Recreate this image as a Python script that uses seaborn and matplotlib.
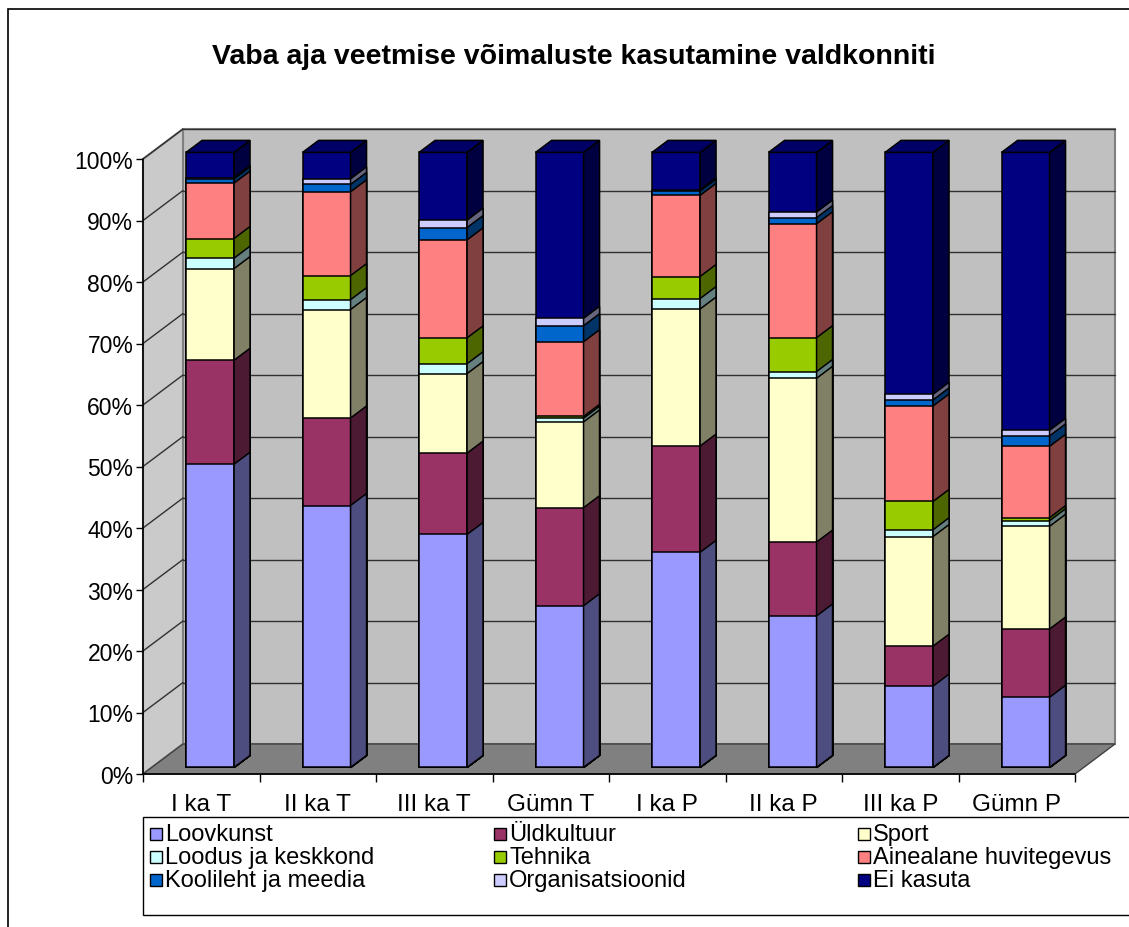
import numpy as np
import pandas as pd
import matplotlib.pyplot as plt
import matplotlib.patches as mpatches
import matplotlib.colors as mcolors
import seaborn as sns

klassid = ["I ka T", "II ka T", "III ka T", "Gümn T", "I ka P", "II ka P", "III ka P", "Gümn P"]
valdkonnad = ["Loovkunst", "Üldkultuur", "Sport", "Loodus ja keskkond", "Tehnika",
              "Ainealane huvitegevus", "Koolileht ja meedia", "Organisatsioonid", "Ei kasuta"]

loovkunst = [49.3, 42.5, 37.8, 26.2, 35.0, 24.6, 13.2, 11.4]
yldkultuur = [16.9, 14.2, 13.2, 15.9, 17.3, 12.0, 6.5, 11.1]
sport = [14.9, 17.6, 12.9, 13.9, 22.3, 26.6, 17.8, 16.7]
loodus = [1.7, 1.6, 1.6, 0.6, 1.7, 1.1, 1.1, 0.9]
tehnika = [3.2, 3.9, 4.2, 0.3, 3.6, 5.5, 4.6, 0.5]
ainealane = [9.0, 13.6, 15.9, 12.1, 13.2, 18.5, 15.5, 11.6]
koolileht = [0.7, 1.2, 2.0, 2.6, 0.7, 1.0, 1.0, 1.7]
organisatsioonid = [0.2, 0.9, 1.2, 1.2, 0.2, 0.9, 0.9, 0.9]
ei_kasuta = [4.1, 4.3, 11.0, 26.9, 6.1, 9.7, 39.3, 45.2]

varvid = ["#9999FF", "#993366", "#FFFFCC", "#CCFFFF", "#99CC00",
          "#FF8080", "#0066CC", "#CCCCFF", "#000080"]

W, H = 1129, 928


def tumedam(c, k):
    r, g, b = mcolors.to_rgb(c)
    return (r * k, g * k, b * k)


def main():
    sns.set_style("white")
    plt.rcParams['font.family'] = ['Liberation Sans', 'DejaVu Sans']
    plt.rcParams['text.color'] = 'black'
    plt.rcParams['xtick.color'] = 'black'
    plt.rcParams['ytick.color'] = 'black'

    df = pd.DataFrame(dict(zip(valdkonnad, [loovkunst, yldkultuur, sport, loodus, tehnika,
                                            ainealane, koolileht, organisatsioonid, ei_kasuta])),
                      index=klassid)
    pct = df.div(df.sum(axis=1), axis=0) * 100
    cum = pct.cumsum(axis=1)

    fig = plt.figure(figsize=(W / 100, H / 100), dpi=100)
    ax = fig.add_axes([143 / W, 1 - 775 / H, 932 / W, 615 / H])
    ax.patch.set_visible(False)

    # depth of the fake 3d box, in data units
    DX, DY = 40 / 116.5, 30 / 6.15
    OX, OY = 0.22 * DX, 0.22 * DY     # bar front offset
    SX, SY = 0.40 * DX, 0.40 * DY     # bar depth

    # walls and floor
    ax.add_patch(mpatches.Polygon([(-0.5 + DX, DY), (7.5 + DX, DY), (7.5 + DX, 100 + DY), (-0.5 + DX, 100 + DY)],
                                  closed=True, fc="#C0C0C0", ec="#808080", lw=1.5, zorder=0.5, clip_on=False))
    ax.add_patch(mpatches.Polygon([(-0.5, 0), (-0.5 + DX, DY), (-0.5 + DX, 100 + DY), (-0.5, 100)],
                                  closed=True, fc="#CACACA", ec="#808080", lw=1.5, zorder=0.5, clip_on=False))
    for v in range(10, 101, 10):
        ax.plot([-0.5 + DX, 7.5 + DX], [v + DY, v + DY], color="#303030", lw=1, zorder=0.6, clip_on=False)
        ax.plot([-0.5, -0.5 + DX], [v, v + DY], color="#303030", lw=1, zorder=0.6, clip_on=False)
    ax.add_patch(mpatches.Polygon([(-0.5, 0), (7.5, 0), (7.5 + DX, DY), (-0.5 + DX, DY)],
                                  closed=True, fc="#808080", ec="#404040", lw=1, zorder=0.7, clip_on=False))
    ax.plot([-0.5, -0.5], [0, 100], color="black", lw=1.2, zorder=0.8, clip_on=False)
    ax.plot([-0.5, 7.5], [0, 0], color="black", lw=1.2, zorder=0.8, clip_on=False)

    # stacked bars: draw cumulative totals from the top series down
    for i in reversed(range(len(valdkonnad))):
        col = valdkonnad[i]
        n0 = len(ax.patches)
        sns.barplot(x=klassid, y=cum[col].values, color=varvid[i], saturation=1, width=0.412,
                    edgecolor="black", linewidth=1.1, errorbar=None, ax=ax, zorder=3)
        uued = ax.patches[n0:]
        kylg = tumedam(varvid[i], 0.5)
        for p in uued:
            x0 = p.get_x() + OX
            y0 = p.get_y() + OY
            w, h = p.get_width(), p.get_height()
            p.set_x(x0)
            p.set_y(y0)
            ax.add_patch(mpatches.Polygon([(x0 + w, y0), (x0 + w + SX, y0 + SY), (x0 + w + SX, y0 + h + SY), (x0 + w, y0 + h)],
                                          closed=True, fc=kylg, ec="black", lw=1.1, zorder=3, clip_on=False))
            if i == len(valdkonnad) - 1:
                ax.add_patch(mpatches.Polygon([(x0, y0 + h), (x0 + SX, y0 + h + SY), (x0 + w + SX, y0 + h + SY), (x0 + w, y0 + h)],
                                              closed=True, fc=tumedam(varvid[i], 0.8), ec="black", lw=1.1,
                                              zorder=3, clip_on=False))
            p.set_clip_on(False)

    ax.set_xlim(-0.5, 7.5)
    ax.set_ylim(0, 100)
    ax.set_xlabel("")
    ax.set_ylabel("")
    for s in ax.spines.values():
        s.set_visible(False)
    ax.set_yticks(range(0, 101, 10), [f"{v}%" for v in range(0, 101, 10)])
    ax.set_xticks(range(len(klassid)), klassid)
    ax.set_xticks(np.arange(-0.5, len(klassid)), minor=True)
    ax.tick_params(axis="y", left=True, length=5, width=1, color="black", pad=2, labelsize=16.5)
    ax.tick_params(axis="x", which="major", bottom=False, length=0, pad=14, labelsize=17.5)
    ax.tick_params(axis="x", which="minor", bottom=True, length=6, width=1, color="black")

    fig.text(574 / W, 1 - 57 / H, "Vaba aja veetmise võimaluste kasutamine valdkonniti",
             ha="center", va="center", fontsize=20.5, fontweight="bold")

    # legend box
    fig.add_artist(mpatches.Rectangle((143 / W, 1 - 916 / H), (W + 5 - 143) / W, 98 / H,
                                      transform=fig.transFigure, fc="white", ec="black", lw=1))
    veerud = [150, 494, 858]
    read = [835, 858, 881]
    for k, nimi in enumerate(valdkonnad):
        r, c = divmod(k, 3)
        x, y = veerud[c], read[r]
        fig.add_artist(mpatches.Rectangle((x / W, 1 - (y + 6) / H), 12 / W, 12 / H,
                                          transform=fig.transFigure, fc=varvid[k], ec="black", lw=1))
        fig.text((x + 15) / W, 1 - y / H, nimi, ha="left", va="center", fontsize=17)

    # outer frame (runs off the right and bottom edges like the source image)
    fig.add_artist(mpatches.Rectangle((8 / W, -5 / H), (W + 5) / W, (H - 5) / H,
                                      transform=fig.transFigure, fill=False, ec="black", lw=1.2))

    plt.savefig("out.png", dpi=100)


if __name__ == "__main__":
    main()
